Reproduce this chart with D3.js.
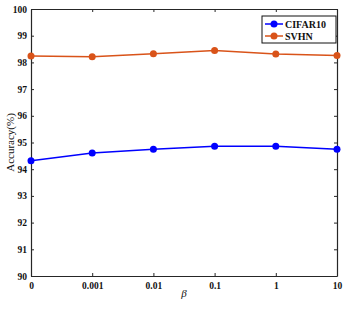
<!DOCTYPE html>
<html>
<head>
<meta charset="utf-8">
<script src="https://cdn.jsdelivr.net/npm/d3@7"></script>
<style>
  body { margin: 0; background: #fff; }
  svg text { font-family: "Liberation Serif", "Times New Roman", serif; }
</style>
</head>
<body>
<div id="chart"></div>
<script>
var w = 360, h = 310;
var margin = {left: 31, right: 23, top: 9, bottom: 34};

var betas = ['0', '0.001', '0.01', '0.1', '1', '10'];
var cifar10 = [94.32, 94.61, 94.75, 94.86, 94.86, 94.75];
var svhn = [98.24, 98.21, 98.32, 98.45, 98.31, 98.26];
var yTicks = [90, 91, 92, 93, 94, 95, 96, 97, 98, 99, 100];
var seriesNames = ['CIFAR10', 'SVHN'];
var colors = ['#0000ff', '#d95319'];

var svg = d3.select('#chart').append('svg')
    .attr('width', w)
    .attr('height', h);

var x = d3.scalePoint()
    .domain(betas)
    .range([margin.left, w - margin.right]);

var y = d3.scaleLinear()
    .domain([90, 100])
    .range([h - margin.bottom, margin.top]);

// axes (box with inward ticks)
var axisColor = '#262626';
var xAxis = d3.axisBottom(x).tickSizeInner(-3).tickSizeOuter(0).tickPadding(6);
var yAxis = d3.axisLeft(y).tickValues(yTicks).tickSizeInner(-3).tickSizeOuter(0).tickPadding(4)
    .tickFormat(d3.format('d'));

var gx = svg.append('g')
    .attr('transform', 'translate(0,' + (h - margin.bottom) + ')')
    .call(xAxis);
var gy = svg.append('g')
    .attr('transform', 'translate(' + margin.left + ',0)')
    .call(yAxis);
var gxTop = svg.append('g')
    .attr('transform', 'translate(0,' + margin.top + ')')
    .call(d3.axisTop(x).tickSizeInner(-3).tickSizeOuter(0).tickFormat(''));
var gyRight = svg.append('g')
    .attr('transform', 'translate(' + (w - margin.right) + ',0)')
    .call(d3.axisRight(y).tickValues(yTicks).tickSizeInner(-3).tickSizeOuter(0).tickFormat(''));

[gx, gy, gxTop, gyRight].forEach(function(g) {
  g.select('.domain').attr('stroke', axisColor).attr('stroke-width', 1.2);
  g.selectAll('.tick line').attr('stroke', axisColor).attr('stroke-width', 1);
  g.selectAll('.tick text')
    .attr('fill', '#111')
    .style('font-size', '9.5px')
    .style('font-weight', 'bold');
});

// series
var series = [cifar10, svhn];
var line = d3.line()
    .x(function(d, i) { return x(betas[i]); })
    .y(function(d) { return y(d); });

series.forEach(function(s, k) {
  svg.append('path')
    .datum(s)
    .attr('fill', 'none')
    .attr('stroke', colors[k])
    .attr('stroke-width', 1.5)
    .attr('d', line);
  svg.selectAll('.pt' + k)
    .data(s)
    .enter()
    .append('circle')
    .attr('cx', function(d, i) { return x(betas[i]); })
    .attr('cy', function(d) { return y(d); })
    .attr('r', 3.5)
    .attr('fill', colors[k]);
});

// axis labels
svg.append('text')
  .attr('transform', 'translate(14,' + ((margin.top + h - margin.bottom) / 2) + ') rotate(-90)')
  .attr('text-anchor', 'middle')
  .style('font-size', '11px')
  .attr('fill', '#111')
  .text('Accuracy(%)');

svg.append('text')
  .attr('x', (margin.left + w - margin.right) / 2)
  .attr('y', 297)
  .attr('text-anchor', 'middle')
  .style('font-size', '11px')
  .style('font-style', 'italic')
  .attr('fill', '#111')
  .text('β');

// legend
var lg = svg.append('g').attr('transform', 'translate(262,16)');
lg.append('rect')
  .attr('width', 74)
  .attr('height', 27)
  .attr('fill', '#fff')
  .attr('stroke', '#111')
  .attr('stroke-width', 1);
seriesNames.forEach(function(name, k) {
  var ly = 8 + k * 12;
  lg.append('line')
    .attr('x1', 3).attr('x2', 21)
    .attr('y1', ly).attr('y2', ly)
    .attr('stroke', colors[k])
    .attr('stroke-width', 1.5);
  lg.append('circle')
    .attr('cx', 12).attr('cy', ly).attr('r', 3.5)
    .attr('fill', colors[k]);
  lg.append('text')
    .attr('x', 23).attr('y', ly + 3.5)
    .style('font-size', '10px')
    .style('font-weight', 'bold')
    .attr('fill', '#111')
    .text(name);
});
</script>
</body>
</html>
